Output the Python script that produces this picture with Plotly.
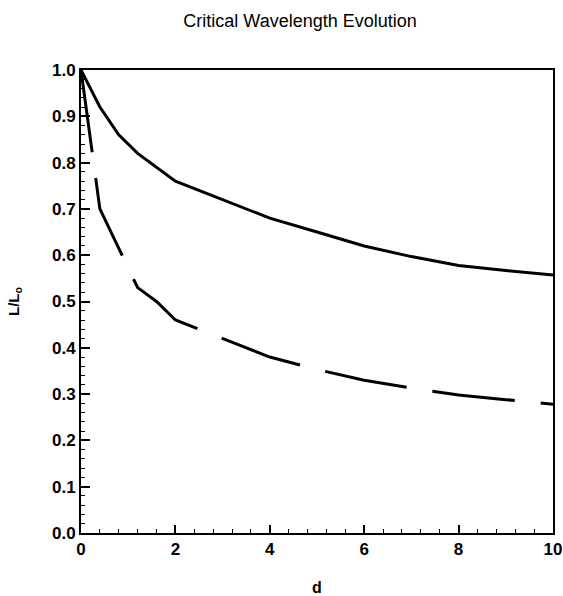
import plotly.graph_objects as go

# Data
d_solid = [0, 0.4, 0.8, 1.2, 2, 3, 4, 5, 6, 7, 8, 9, 10]
L_solid = [1.0, 0.92, 0.86, 0.82, 0.76, 0.72, 0.68, 0.65, 0.62, 0.597, 0.578, 0.567, 0.557]

d_dash = [0, 0.4, 1.2, 1.6, 2, 3, 4, 5, 6, 7, 8, 9, 10]
L_dash = [1.0, 0.70, 0.53, 0.50, 0.46, 0.42, 0.38, 0.353, 0.33, 0.313, 0.298, 0.288, 0.278]

x_ticks = [0, 2, 4, 6, 8, 10]
y_ticks = [0, 0.1, 0.2, 0.3, 0.4, 0.5, 0.6, 0.7, 0.8, 0.9, 1.0]

title_text = "Critical Wavelength Evolution"
x_label = "d"
y_label = "L/L<sub>o</sub>"

fig = go.Figure()
fig.add_trace(go.Scatter(x=d_solid, y=L_solid, mode="lines",
                         line=dict(color="black", width=3), showlegend=False))
fig.add_trace(go.Scatter(x=d_dash, y=L_dash, mode="lines",
                         line=dict(color="black", width=3, dash="83px,26px"), showlegend=False))

font_family = "Liberation Sans, Arial, sans-serif"

fig.update_layout(
    width=563, height=596,
    margin=dict(l=81, r=10, t=70, b=63),
    plot_bgcolor="white", paper_bgcolor="white",
    title=dict(text=title_text, x=0.533, xanchor="center", y=0.966, yanchor="middle",
               font=dict(family=font_family, size=18, color="black")),
    font=dict(family=font_family, color="black"),
    xaxis=dict(range=[0, 10], tickvals=x_ticks, ticks="inside", ticklen=8,
               tickwidth=1.5, tickcolor="black", automargin=False,
               showline=True, linecolor="black", linewidth=2, mirror=True,
               showgrid=False, zeroline=False,
               tickfont=dict(family=font_family, size=17, weight="bold"),
               title=dict(text=x_label, font=dict(family=font_family, size=16, weight="bold"), standoff=23),
               minor=dict(dtick=0.4, ticks="inside", ticklen=4, tickwidth=1, tickcolor="black")),
    yaxis=dict(range=[0, 1.0], tickvals=y_ticks, automargin=False,
               tickformat=".1f", ticks="inside", ticklen=9, tickwidth=1.5, tickcolor="black",
               showline=True, linecolor="black", linewidth=2, mirror=True,
               showgrid=False, zeroline=False,
               tickfont=dict(family=font_family, size=17, weight="bold"),
               title=dict(text=y_label, font=dict(family=font_family, size=15, weight="bold"), standoff=29),
               minor=dict(dtick=0.02, ticks="inside", ticklen=4, tickwidth=1, tickcolor="black")),
)

fig.write_html("out.html", config={"displayModeBar": False},
               post_script="document.body.style.margin='0';document.body.style.overflow='hidden';")
